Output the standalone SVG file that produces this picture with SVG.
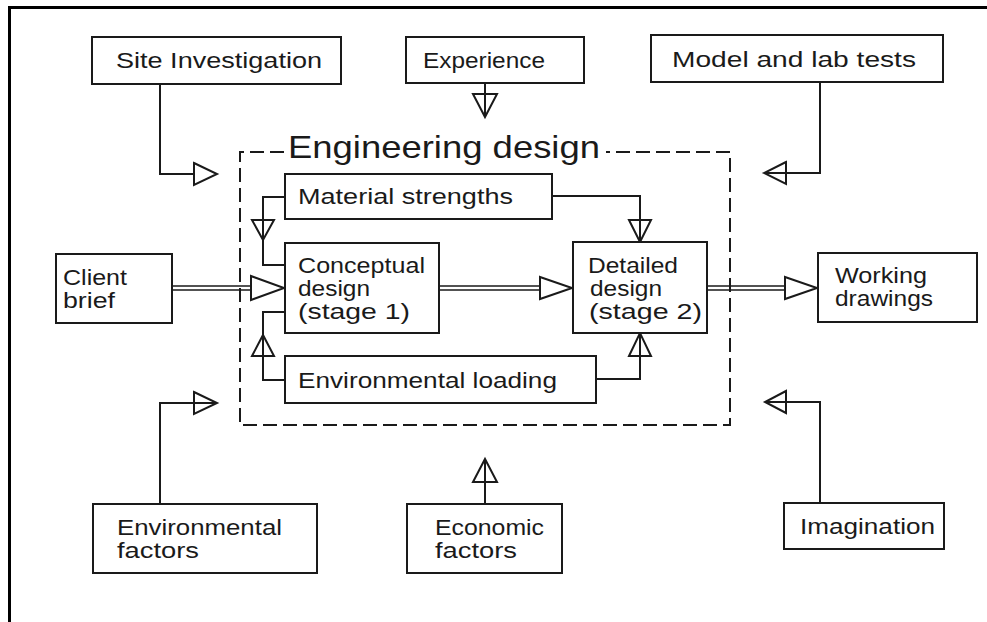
<svg xmlns="http://www.w3.org/2000/svg" width="987" height="622" viewBox="0 0 987 622">
  <style>
    .box { fill: #fff; stroke: #1a1a1a; stroke-width: 2; }
    .lbl { font-family: "Liberation Sans", "DejaVu Sans", sans-serif; font-size: 22px; fill: #1a1a1a; }
    .title { font-family: "Liberation Sans", "DejaVu Sans", sans-serif; font-size: 32px; fill: #1a1a1a; }
    .wire { fill: none; stroke: #1a1a1a; stroke-width: 2; }
    .dbl { fill: none; stroke: #1a1a1a; stroke-width: 1.5; }
    .head { fill: #fff; stroke: #1a1a1a; stroke-width: 2; stroke-linejoin: miter; }
    .dash { fill: none; stroke: #1a1a1a; stroke-width: 2; stroke-dasharray: 14 6; }
    .frame { fill: none; stroke: #000; stroke-width: 3; }
  </style>

  <!-- page frame -->
  <path class="frame" d="M9.5,622 V7.5 H987"/>

  <!-- Engineering design boundary -->
  <g id="engineering-design">
    <path class="dash" d="M284,152 H240 V425 H730 V152 H606"/>
    <text class="title" x="288" y="158" textLength="312" lengthAdjust="spacingAndGlyphs">Engineering design</text>
  </g>

  <!-- connectors -->
  <g id="connectors">
    <!-- Site Investigation -->
    <path class="wire" d="M160,84 V174 H217"/>
    <path class="head" d="M194,163 L217,174 L194,185 Z"/>
    <!-- Experience -->
    <path class="wire" d="M485,83 V117"/>
    <path class="head" d="M473,94 L485,117 L497,94 Z"/>
    <path class="wire" d="M485,94 V117"/>
    <!-- Model and lab tests -->
    <path class="wire" d="M820,82 V173 H764"/>
    <path class="head" d="M786,162 L764,173 L786,184 Z"/>
    <path class="wire" d="M786,173 H764"/>
    <!-- Material strengths to conceptual -->
    <path class="wire" d="M285,197 H263 V265 H285"/>
    <path class="head" d="M252,220 L263,240 L274,220 Z"/>
    <path class="wire" d="M263,220 V240"/>
    <!-- Environmental loading to conceptual -->
    <path class="wire" d="M285,380 H263 V312 H285"/>
    <path class="head" d="M252,356 L263,335 L274,356 Z"/>
    <path class="wire" d="M263,356 V335"/>
    <!-- Material strengths to detailed -->
    <path class="wire" d="M552,196 H640 V242"/>
    <path class="head" d="M629,220 L640,242 L651,220 Z"/>
    <path class="wire" d="M640,220 V242"/>
    <!-- Environmental loading to detailed -->
    <path class="wire" d="M596,379 H640 V333"/>
    <path class="head" d="M629,356 L640,333 L651,356 Z"/>
    <path class="wire" d="M640,356 V333"/>
    <!-- Client brief to conceptual (double line) -->
    <path class="dbl" d="M172,286 H251 M172,290 H251"/>
    <path class="head" d="M251,276 L284,288 L251,300 Z"/>
    <!-- Conceptual to detailed (double line) -->
    <path class="dbl" d="M439,286 H540 M439,290 H540"/>
    <path class="head" d="M540,277 L572,288 L540,299 Z"/>
    <!-- Detailed to working drawings (double line) -->
    <path class="dbl" d="M707,286 H785 M707,290 H785"/>
    <path class="head" d="M785,277 L817,288 L785,299 Z"/>
    <!-- Environmental factors -->
    <path class="wire" d="M160,504 V403 H217"/>
    <path class="head" d="M194,392 L217,403 L194,414 Z"/>
    <path class="wire" d="M194,403 H217"/>
    <!-- Economic factors -->
    <path class="wire" d="M485,504 V459"/>
    <path class="head" d="M473,482 L485,459 L497,482 Z"/>
    <path class="wire" d="M485,482 V459"/>
    <!-- Imagination -->
    <path class="wire" d="M820,503 V402 H765"/>
    <path class="head" d="M786,391 L765,402 L786,413 Z"/>
    <path class="wire" d="M786,402 H765"/>
  </g>

  <!-- outer influences -->
  <g id="site-investigation">
    <rect class="box" x="92" y="37" width="249" height="47"/>
    <text class="lbl" x="116" y="68" textLength="206" lengthAdjust="spacingAndGlyphs">Site Investigation</text>
  </g>
  <g id="experience">
    <rect class="box" x="406" y="37" width="178" height="46"/>
    <text class="lbl" x="423" y="68" textLength="122" lengthAdjust="spacingAndGlyphs">Experience</text>
  </g>
  <g id="model-lab-tests">
    <rect class="box" x="651" y="35" width="292" height="47"/>
    <text class="lbl" x="672" y="67" textLength="244" lengthAdjust="spacingAndGlyphs">Model and lab tests</text>
  </g>
  <g id="client-brief">
    <rect class="box" x="56" y="254" width="116" height="69"/>
    <text class="lbl" x="63" y="285" textLength="64" lengthAdjust="spacingAndGlyphs">Client</text>
    <text class="lbl" x="63" y="308" textLength="52" lengthAdjust="spacingAndGlyphs">brief</text>
  </g>
  <g id="working-drawings">
    <rect class="box" x="818" y="253" width="159" height="69"/>
    <text class="lbl" x="835" y="283" textLength="92" lengthAdjust="spacingAndGlyphs">Working</text>
    <text class="lbl" x="835" y="306" textLength="98" lengthAdjust="spacingAndGlyphs">drawings</text>
  </g>
  <g id="environmental-factors">
    <rect class="box" x="93" y="504" width="224" height="69"/>
    <text class="lbl" x="117" y="535" textLength="165" lengthAdjust="spacingAndGlyphs">Environmental</text>
    <text class="lbl" x="117" y="558" textLength="82" lengthAdjust="spacingAndGlyphs">factors</text>
  </g>
  <g id="economic-factors">
    <rect class="box" x="407" y="504" width="155" height="69"/>
    <text class="lbl" x="435" y="535" textLength="109" lengthAdjust="spacingAndGlyphs">Economic</text>
    <text class="lbl" x="435" y="558" textLength="82" lengthAdjust="spacingAndGlyphs">factors</text>
  </g>
  <g id="imagination">
    <rect class="box" x="784" y="503" width="160" height="46"/>
    <text class="lbl" x="800" y="534" textLength="135" lengthAdjust="spacingAndGlyphs">Imagination</text>
  </g>

  <!-- inner design stages -->
  <g id="material-strengths">
    <rect class="box" x="285" y="174" width="267" height="45"/>
    <text class="lbl" x="298" y="204" textLength="215" lengthAdjust="spacingAndGlyphs">Material strengths</text>
  </g>
  <g id="conceptual-design">
    <rect class="box" x="285" y="243" width="154" height="90"/>
    <text class="lbl" x="298" y="273" textLength="127" lengthAdjust="spacingAndGlyphs">Conceptual</text>
    <text class="lbl" x="298" y="296" textLength="72" lengthAdjust="spacingAndGlyphs">design</text>
    <text class="lbl" x="298" y="319" textLength="112" lengthAdjust="spacingAndGlyphs">(stage 1)</text>
  </g>
  <g id="detailed-design">
    <rect class="box" x="573" y="242" width="134" height="91"/>
    <text class="lbl" x="588" y="273" textLength="90" lengthAdjust="spacingAndGlyphs">Detailed</text>
    <text class="lbl" x="590" y="296" textLength="72" lengthAdjust="spacingAndGlyphs">design</text>
    <text class="lbl" x="589" y="319" textLength="113" lengthAdjust="spacingAndGlyphs">(stage 2)</text>
  </g>
  <g id="environmental-loading">
    <rect class="box" x="285" y="356" width="311" height="47"/>
    <text class="lbl" x="298" y="388" textLength="259" lengthAdjust="spacingAndGlyphs">Environmental loading</text>
  </g>
</svg>
